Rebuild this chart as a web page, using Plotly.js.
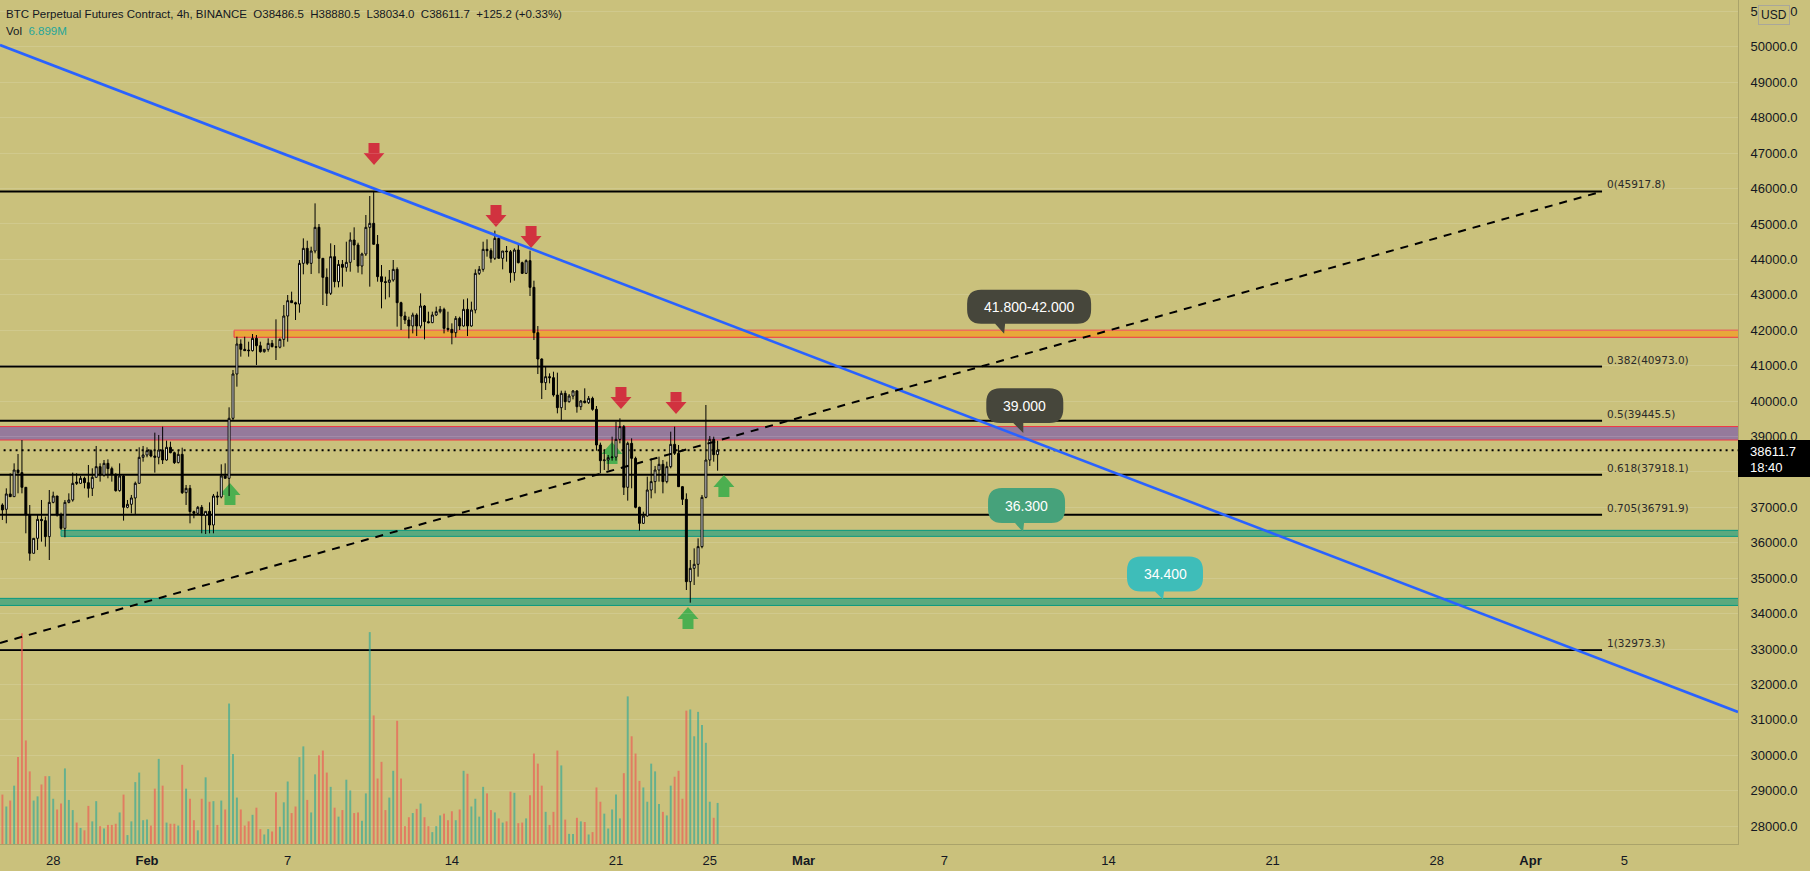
<!DOCTYPE html>
<html><head><meta charset="utf-8">
<script src="https://cdn.plot.ly/plotly-3.0.1.min.js"></script>
<style>html,body{margin:0;padding:0;background:#ffffff;}#chart{width:1810px;height:871px;}</style>
</head><body><div id="chart"></div>
<script>
// ---------- DATA (BTC perpetual, 4h, Binance) ----------
const firstCandle = '2022-01-25T20:00:00Z';
const open = [37066,36944,37377,37301,38054,37979,37565,36784,35702,36125,
36661,36624,36172,37141,37320,36784,36407,37141,37207,37715,
37678,37819,37696,37536,37847,38148,37913,38242,38092,37932,
37471,37885,37000,37085,37264,37678,38412,38478,38600,38449,
38412,38619,38336,38694,38543,38261,38496,37414,37536,36878,
36831,37000,36774,36887,36501,37320,37292,37885,37819,39513,
40764,41610,41460,41441,41422,41770,41563,41394,41460,41629,
41535,41520,41742,42401,42834,42777,42740,43888,44311,43888,
44236,44904,44029,43492,43041,44076,43370,43859,43775,43916,
44546,44405,43812,44151,44904,45017,44424,43511,43370,43350,
43417,43718,42777,42401,42288,42119,42429,42119,42683,42241,
42213,42429,42523,42589,42052,42024,41930,42335,42119,42589,
42119,42570,43605,43718,44283,44245,44029,44593,44029,44236,
44217,43624,44264,43906,43605,43963,43210,41930,41187,40519,
40688,40660,40171,39813,40218,39982,40142,40284,39841,40001,
39954,40076,39766,38759,38317,38336,38402,38420,38919,39277,
37565,38806,38383,37000,36548,36755,37489,37725,38054,38214,
37725,38148,38778,38524,37583,37226,34901,35278,35391,35890,
37282,38336,38919,38486.5];
const high = [37113,37536,37960,38242,38506,38900,37565,37066,36125,36784,
37207,36737,37489,37442,37320,36849,37207,37395,37979,37960,
37885,37866,38195,38101,38732,38242,38336,38355,38148,37960,
38242,37913,37207,37349,37725,38694,38732,38694,38637,39108,
39042,39277,38882,38854,38572,38619,38684,37631,37631,36906,
37038,37066,36887,37141,37377,37442,38214,38242,39823,40877,
41817,41742,41817,41676,41893,41864,41676,41460,41770,41723,
42307,41770,42711,42994,43088,42805,43982,44593,44527,44358,
45581,44998,44029,43746,44452,44405,43982,43982,44499,44762,
44904,44471,44189,45252,45788,45918,44687,43840,43511,43699,
43982,43775,42805,42523,42382,42495,42476,43041,42711,42523,
42523,42664,42683,42636,42523,42194,42401,42382,42871,42899,
42806,43718,43812,44499,44565,44311,44810,44622,44236,44377,
44264,44311,44433,43935,44000,44245,43398,42118,41206,40970,
40782,40829,40801,40293,40293,40199,40312,40312,40030,40359,
40142,40124,39860,38826,38618,38477,38995,39418,39512,39324,
38854,38948,38430,37019,36877,37866,38383,38167,38430,38336,
38289,39136,39277,38759,37602,37395,35513,35842,36125,37348,
39889,39013,38995,38880.5];
const low = [36643,36548,37301,37301,37395,37395,36266,35494,35702,35796,
36031,35890,35513,37113,36737,36360,36153,37113,37160,37631,
37660,37536,37273,37320,37847,37725,37866,37819,37725,37442,
37442,36624,36972,36831,36812,37678,38289,38412,38412,37979,
38214,38223,38317,38525,38223,38242,37377,37066,36548,36690,
36812,36266,36247,36266,36266,37066,37254,37819,37320,39466,
40406,41253,41422,41253,41400,41018,41366,41366,41394,41516,
41159,41488,41535,41676,42777,42288,42495,43577,43840,43586,
44170,43605,42711,42683,42994,43210,43210,43229,43652,43652,
43982,43624,43577,44095,43229,44424,43370,42617,42871,42928,
43370,42100,42006,42175,41770,41911,41836,42052,41742,42194,
42200,42401,42476,41911,41958,41601,41798,42006,42100,41836,
42100,42476,43558,43652,44076,43906,43982,44029,43718,43935,
43342,43398,43887,43586,43586,42965,41723,40763,40058,40312,
40500,40124,39653,39465,39747,39954,40048,39672,39747,39935,
39917,39728,38599,37960,38054,38054,38317,38317,38807,37348,
37188,37536,36972,36341,36529,36736,37254,37395,37725,37395,
37677,38101,38477,37583,37066,34666,34308,34807,35042,35842,
37254,38167,38289,38034.0];
const close = [36925,37377,37301,38054,37979,37565,36784,35702,36125,36661,
36624,36172,37141,37320,36784,36407,37141,37207,37678,37678,
37819,37696,37536,37847,38148,37913,38242,38092,37932,37471,
37885,37000,37085,37264,37678,38412,38478,38600,38449,38412,
38619,38336,38694,38543,38261,38496,37414,37536,36878,36831,
37000,36774,36887,36501,37320,37292,37885,37819,39513,40764,
41610,41460,41422,41422,41770,41563,41394,41460,41629,41535,
41520,41742,42401,42834,42777,42740,43888,44311,43888,44236,
44904,44029,43492,43041,44076,43370,43859,43775,43916,44546,
44405,43812,44151,44904,45017,44424,43511,43370,43350,43417,
43718,42777,42401,42288,42119,42429,42119,42683,42241,42213,
42429,42523,42589,42052,42024,41930,42335,42119,42589,42119,
42570,43605,43718,44283,44245,44029,44593,44029,44236,44217,
43624,44264,43906,43605,43963,43210,41930,41187,40519,40688,
40660,40171,39813,40218,39982,40142,40284,39841,40001,39954,
40076,39766,38759,38317,38336,38402,38420,38919,39277,37565,
38806,38383,37000,36548,36755,37489,37725,38054,38214,37725,
38148,38778,38524,37583,37226,34901,35278,35391,35890,37282,
38336,38919,38486.5,38611.7];
const volumeM = [8.3,6.3,7.3,9.8,14.6,35.4,17.4,12.2,7.3,8.0,
10.0,11.4,11.4,7.6,5.8,6.8,12.7,7.4,5.7,3.6,
2.7,2.3,6.4,3.8,7.2,3.0,2.6,3.2,3.2,3.4,
5.3,8.3,1.5,3.8,10.4,12.0,4.0,4.1,3.1,9.3,
14.3,9.8,3.6,3.4,3.4,3.1,13.3,9.3,7.6,4.0,
2.3,7.6,11.2,7.1,7.2,3.2,7.3,5.8,23.6,15.1,
7.8,5.8,3.1,3.8,4.9,6.1,2.5,1.6,2.5,2.1,
8.7,2.9,7.0,10.5,5.2,6.3,14.6,16.4,7.4,5.3,
11.7,14.9,15.7,12.0,9.6,6.1,4.6,5.7,10.8,9.0,
5.2,5.3,3.9,8.5,35.6,21.6,11.0,13.8,5.7,7.8,
12.3,20.7,11.0,3.0,4.5,5.2,5.9,6.8,4.5,3.0,
2.0,3.0,4.8,5.1,4.0,5.5,4.0,5.8,12.3,11.8,
6.3,7.6,4.6,9.6,8.5,5.7,5.3,4.3,3.6,3.8,
8.8,8.6,3.5,3.6,4.3,8.2,15.2,13.5,9.8,5.4,
3.2,5.4,15.7,13.2,4.1,1.7,1.7,4.4,3.8,3.7,
1.6,2.0,9.5,7.1,5.1,2.6,5.8,8.3,4.3,11.9,
24.8,18.1,15.2,10.6,9.5,7.1,13.5,12.2,6.7,5.4,
4.8,9.8,11.3,12.3,7.6,22.4,22.6,18.1,22.2,20.0,
17.0,7.1,4.4,6.9];

// Fibonacci retracement
const fibRatio = ['0','0.382','0.5','0.618','0.705','1'];
const fibLevel = [45917.8, 40973.0, 39445.5, 37918.1, 36791.9, 32973.3];
const fibEnd = '2022-04-04 01:10';

// zones
const zoneName  = ['purple','orange','green1','green2'];
const zoneLow   = [38900, 41800, 36180, 34230];
const zoneHigh  = [39280, 42000, 36350, 34430];
const zoneStart = ['2022-01-20', '2022-02-04 17:05', '2022-01-28 08:00', '2022-01-20'];

// trend lines
const blueLineX = ['2022-01-25 17:33', '2022-04-09 20:18'];
const blueLineY = [50051, 31222];
const dashLineX = ['2022-01-25 17:33', fibEnd];
const dashLineY = [33170, 45917.8];
const lastPrice = 38611.7;

// callouts
const calloutText  = ['41.800-42.000', '39.000', '36.300', '34.400'];
const calloutX     = ['2022-03-09 13:12', '2022-03-10 08:50', '2022-03-10 08:35', '2022-03-16 07:50'];
const calloutY     = [41900, 39100, 36300, 34400];

// signal arrows
const downArrowX = ['2022-02-10 16:20','2022-02-15 21:10','2022-02-17 09:05','2022-02-21 05:05','2022-02-23 13:25'];
const downArrowY = [46664, 44913, 44320, 39776, 39635];
const upArrowX   = ['2022-02-04 12:55','2022-02-20 19:55','2022-02-24 01:40','2022-02-25 14:25'];
const upArrowY   = [37687, 38844, 34186, 37913];

// axis ticks
const xTickVals = ['2022-01-28','2022-02-01','2022-02-07','2022-02-14','2022-02-21','2022-02-25','2022-03-01','2022-03-07','2022-03-14','2022-03-21','2022-03-28','2022-04-01','2022-04-05'];
const xTickText = ['28','<b>Feb</b>','7','14','21','25','<b>Mar</b>','7','14','21','28','<b>Apr</b>','5'];
const yTickVals = [28000,29000,30000,31000,32000,33000,34000,35000,36000,37000,38000,39000,40000,41000,42000,43000,44000,45000,46000,47000,48000,49000,50000,51000];
const yTickHidden = [38000]; // covered by the last-price label

// ---------- BUILD ----------
const BG = '#cac17c';
const FONT = 'Liberation Sans, Arial, sans-serif';
const TXT = '#131722';
const step = 4*3600*1000;
const t0 = Date.parse(firstCandle);
function fmt(ms){ return new Date(ms).toISOString().slice(0,16).replace('T',' '); }
const times = open.map((_, i) => fmt(t0 + i*step));
const volColors = open.map((o, i) => close[i] >= o ? 'rgba(38,166,154,0.62)' : 'rgba(239,83,80,0.62)');
const yTickText = yTickVals.map(v => yTickHidden.includes(v) ? '' : v.toFixed(1));

const traces = [
  {type:'bar', x:times, y:volumeM, yaxis:'y2', width:step*0.5,
   marker:{color:volColors, line:{width:0}}, hoverinfo:'skip'},
  {type:'candlestick', x:times, open:open, high:high, low:low, close:close,
   increasing:{line:{color:'#000000', width:1}, fillcolor:'#ffffff'},
   decreasing:{line:{color:'#000000', width:1}, fillcolor:'#000000'},
   whiskerwidth:0, hoverinfo:'skip'}
];

const shapes = [];
const zoneFill = ['#957a9b', '#e8a83a', '#5aa97e', '#5aa97e'];
const zoneLine = ['#f23645', '#f23645', '#089981', '#089981'];
zoneName.forEach((n, i) => {
  shapes.push({type:'rect', layer:'below', xref:'x', yref:'y', x0:zoneStart[i], x1:'2022-04-20',
    y0:zoneLow[i], y1:zoneHigh[i], fillcolor:zoneFill[i], line:{color:zoneLine[i], width:1}});
});
fibLevel.forEach(v => {
  shapes.push({type:'line', layer:'below', xref:'x', yref:'y', x0:'2022-01-20', x1:fibEnd, y0:v, y1:v,
    line:{color:'#000000', width:2}});
});
shapes.push({type:'line', layer:'below', xref:'x', yref:'y', x0:'2022-01-20', x1:'2022-04-20',
  y0:lastPrice, y1:lastPrice, line:{color:'#000000', width:2, dash:'2px,4px'}});

const downPath = 'M -10.5 12 L 0 0 L 10.5 12 L 5.5 12 L 5.5 22 L -5.5 22 L -5.5 12 Z';
const upPath   = 'M -10.5 -12 L 0 0 L 10.5 -12 L 5.5 -12 L 5.5 -22 L -5.5 -22 L -5.5 -12 Z';
downArrowX.forEach((x, i) => shapes.push({type:'path', layer:'below', xref:'x', yref:'y',
  xsizemode:'pixel', ysizemode:'pixel', xanchor:x, yanchor:downArrowY[i], path:downPath,
  fillcolor:'#d1323f', line:{width:0}}));
upArrowX.forEach((x, i) => shapes.push({type:'path', layer:'below', xref:'x', yref:'y',
  xsizemode:'pixel', ysizemode:'pixel', xanchor:x, yanchor:upArrowY[i], path:upPath,
  fillcolor:'#4caf50', line:{width:0}}));

shapes.push({type:'line', layer:'above', xref:'x', yref:'y', x0:blueLineX[0], x1:blueLineX[1],
  y0:blueLineY[0], y1:blueLineY[1], line:{color:'#2962ff', width:2.6}});
shapes.push({type:'line', layer:'above', xref:'x', yref:'y', x0:dashLineX[0], x1:dashLineX[1],
  y0:dashLineY[0], y1:dashLineY[1], line:{color:'#000000', width:2, dash:'8px,7px'}});

// callout bubbles (pixel geometry relative to tail tip, y up)
const cbGeom = [[-37,87,10,44,-9,1],[-37,40,10,44.7,-10,0],[-35,42,9,44,-8,1],[-36,40,8,43,-8,1]];
const cbFill = ['#46463b','#46463b','#46a27b','#3ebdb9'];
function bubble(L,R,B,T,tl,tr){
  const r = 14;
  return `M ${L+r} ${T} L ${R-r} ${T} Q ${R} ${T} ${R} ${T-r} L ${R} ${B+r} Q ${R} ${B} ${R-r} ${B} `+
         `L ${tr} ${B} L 0 0 L ${tl} ${B} L ${L+r} ${B} Q ${L} ${B} ${L} ${B+r} L ${L} ${T-r} Q ${L} ${T} ${L+r} ${T} Z`;
}
const annotations = [];
calloutText.forEach((t, i) => {
  const g = cbGeom[i];
  shapes.push({type:'path', layer:'above', xref:'x', yref:'y', xsizemode:'pixel', ysizemode:'pixel',
    xanchor:calloutX[i], yanchor:calloutY[i], path:bubble(...g), fillcolor:cbFill[i], line:{width:0}});
  annotations.push({xref:'x', yref:'y', x:calloutX[i], y:calloutY[i], text:t, showarrow:false,
    xanchor:'center', yanchor:'middle', xshift:(g[0]+g[1])/2, yshift:(g[2]+g[3])/2,
    font:{family:FONT, size:14, color:'#ffffff'}});
});

// fib labels
fibLevel.forEach((v, i) => annotations.push({xref:'x', yref:'y', x:fibEnd, y:v, xanchor:'left', yanchor:'bottom',
  xshift:3, yshift:-1, showarrow:false, text:fibRatio[i] + '(' + v.toFixed(1) + ')',
  font:{family:'DejaVu Sans, sans-serif', size:10.5, color:'#2a2a2a'}}));

// header legend
const NB = '\u00a0\u00a0';
annotations.push({xref:'paper', yref:'paper', x:4/1738, y:1-14/844, xanchor:'left', yanchor:'middle', showarrow:false,
  text:'BTC Perpetual Futures Contract, 4h, BINANCE'+NB+'O38486.5'+NB+'H38880.5'+NB+'L38034.0'+NB+'C38611.7'+NB+'+125.2 (+0.33%)',
  font:{family:FONT, size:11.5, color:TXT}});
annotations.push({xref:'paper', yref:'paper', x:4/1738, y:1-31/844, xanchor:'left', yanchor:'middle', showarrow:false,
  text:'Vol'+NB+'<span style="color:#26a69a">6.899M</span>', font:{family:FONT, size:11.5, color:TXT}});

// price axis label box + USD
shapes.push({type:'rect', layer:'above', xref:'paper', yref:'paper', x0:1.0, x1:1.06, y0:1-477/844, y1:1-440/844,
  fillcolor:'#000000', line:{width:0}});
annotations.push({xref:'paper', yref:'paper', x:1748/1738, y:1-451/844, xanchor:'left', yanchor:'middle', showarrow:false,
  text:lastPrice.toFixed(1), font:{family:FONT, size:13, color:'#ffffff'}});
annotations.push({xref:'paper', yref:'paper', x:1748/1738, y:1-467/844, xanchor:'left', yanchor:'middle', showarrow:false,
  text:'18:40', font:{family:FONT, size:13, color:'#ffffff'}});
annotations.push({xref:'paper', yref:'paper', x:1774/1738, y:1-15/844, xanchor:'center', yanchor:'middle', showarrow:false,
  text:'USD', bgcolor:BG, bordercolor:'#a9a79a', borderwidth:1, borderpad:2,
  font:{family:FONT, size:12, color:TXT}});

const layout = {
  width:1810, height:871, margin:{l:0, r:72, t:0, b:27},
  paper_bgcolor:BG, plot_bgcolor:BG, showlegend:false, dragmode:false,
  xaxis:{type:'date', range:['2022-01-25 17:33','2022-04-09 20:18'], tickvals:xTickVals, ticktext:xTickText,
    showgrid:false, zeroline:false, showline:true, linecolor:'#aaa36a', linewidth:1, ticks:'',
    tickfont:{family:FONT, size:13, color:TXT}, ticklabelstandoff:4, rangeslider:{visible:false}, fixedrange:true},
  yaxis:{range:[27495.5, 51321.9], side:'right', tickvals:yTickVals, ticktext:yTickText,
    showgrid:true, gridcolor:'rgba(255,255,255,0.13)', gridwidth:1, zeroline:false,
    showline:true, linecolor:'#aaa36a', linewidth:1, ticks:'', ticklabelstandoff:9,
    tickfont:{family:FONT, size:13, color:TXT}, fixedrange:true},
  yaxis2:{overlaying:'y', range:[0, 141.8], visible:false, fixedrange:true},
  shapes:shapes, annotations:annotations
};
Plotly.newPlot('chart', traces, layout, {staticPlot:true, displayModeBar:false});
</script></body></html>
